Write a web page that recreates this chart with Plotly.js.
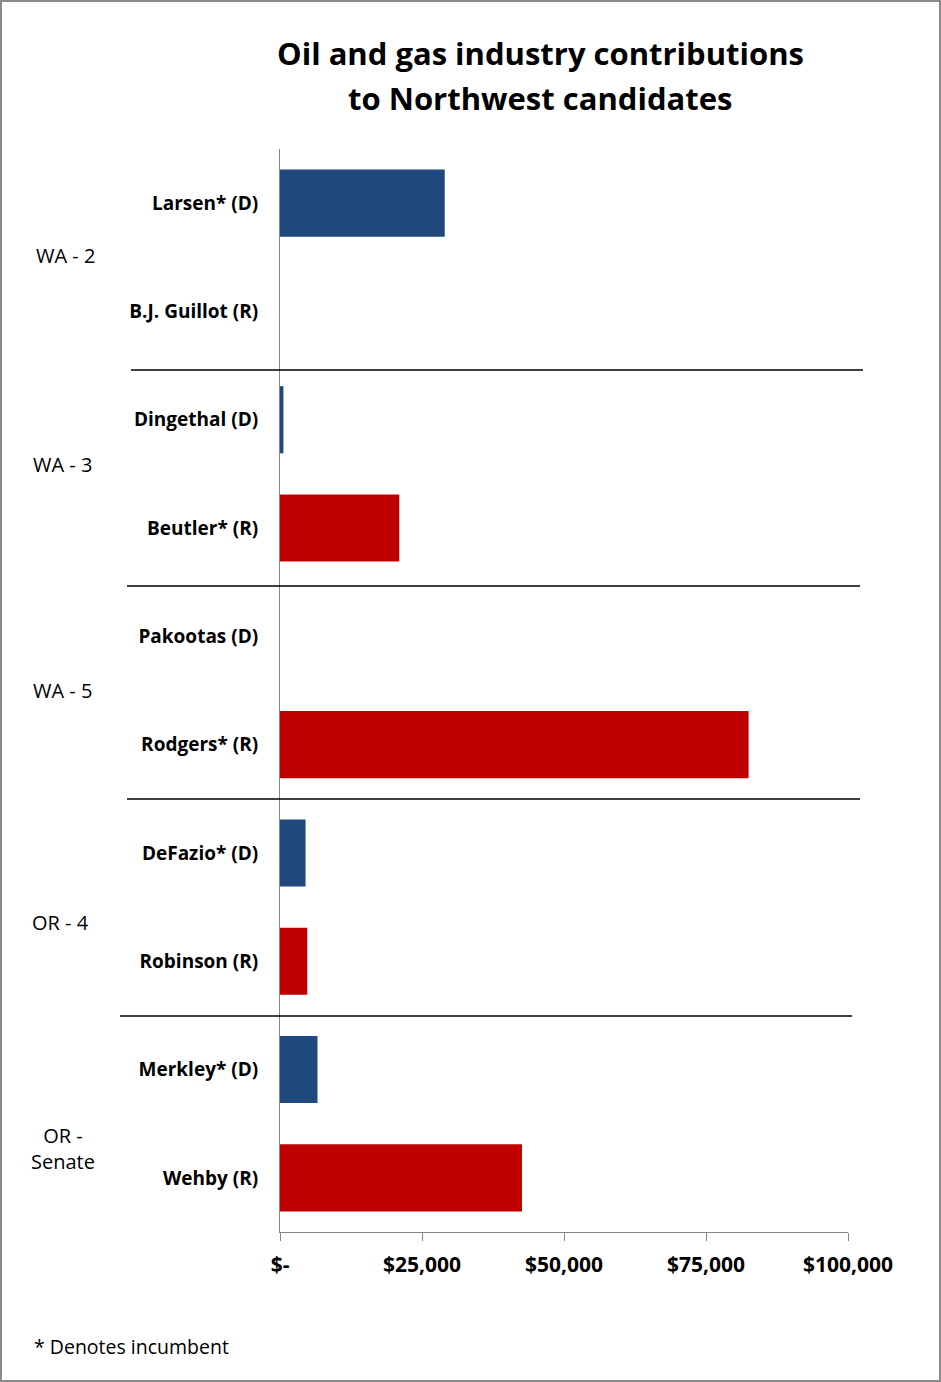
<!DOCTYPE html>
<html>
<head>
<meta charset="utf-8">
<script src="https://cdn.plot.ly/plotly-3.0.1.min.js"></script>
<style>
  body { margin: 0; background: #fff; }
  #frame { width: 941px; height: 1382px; box-sizing: border-box; border: 2px solid #8a8a8a; }
  #graph { width: 937px; height: 1378px; }
</style>
</head>
<body>
<div id="frame"><div id="graph"></div></div>
<script>
// candidates top to bottom
let candidates = ['Larsen* (D)', 'B.J. Guillot (R)', 'Dingethal (D)', 'Beutler* (R)', 'Pakootas (D)',
                  'Rodgers* (R)', 'DeFazio* (D)', 'Robinson (R)', 'Merkley* (D)', 'Wehby (R)'];
let party = ['D', 'R', 'D', 'R', 'D', 'R', 'D', 'R', 'D', 'R'];
let amounts = [29000, 0, 600, 21000, 0, 82500, 4500, 4800, 6600, 42600];

let races = ['WA - 2', 'WA - 3', 'WA - 5', 'OR - 4', 'OR -<br>Senate'];
let raceY = [256, 464, 690, 922, 1148];   // label centres, px from top
let raceX = [65, 62, 62, 60, 63];         // label centres, px from left

let tickVals = [0, 25000, 50000, 75000, 100000];
let tickText = ['$-', '$25,000', '$50,000', '$75,000', '$100,000'];

let partyColor = {D: '#1f497d', R: '#c00000'};
let font = '"Open Sans", sans-serif';

// plot area in pixels (inside the frame)
let L = 278, R = 91, T = 147, B = 148, W = 937, H = 1378;
let plotW = W - L - R, plotH = H - T - B;
let px2x = function(px){ return (px - 2 - L) / plotW; };
let px2y = function(py){ return 1 - (py - 2 - T) / plotH; };

var trace = {
	type: 'bar',
	orientation: 'h',
	y: candidates,
	x: amounts,
	width: 0.62,
	marker: { color: party.map(p => partyColor[p]) },
	hoverinfo: 'y+x'
};

// separators between races, as in the picture
let sepY = [370, 586, 799, 1016];
let sepLeft = [131, 127, 127, 120];
let sepRight = [863, 860, 860, 852];
var shapes = [];
for (let i = 0; i < sepY.length; i++) {
	shapes.push({
		type: 'line', xref: 'paper', yref: 'paper',
		x0: px2x(sepLeft[i]), x1: px2x(sepRight[i]),
		y0: px2y(sepY[i]), y1: px2y(sepY[i]),
		line: { color: '#000', width: 1.5 }
	});
}

var annotations = [];
for (let i = 0; i < races.length; i++) {
	annotations.push({
		xref: 'paper', yref: 'paper', x: px2x(raceX[i]), y: px2y(raceY[i]),
		text: races[i], showarrow: false, xanchor: 'center', yanchor: 'middle',
		font: { family: font, size: 20, color: '#000' }
	});
}
// title in two lines
annotations.push({
	xref: 'paper', yref: 'paper', x: px2x(540), y: px2y(53),
	text: '<b>Oil and gas industry contributions</b>', showarrow: false,
	xanchor: 'center', yanchor: 'middle', font: { family: font, size: 31, color: '#000' }
});
annotations.push({
	xref: 'paper', yref: 'paper', x: px2x(540), y: px2y(98),
	text: '<b>to Northwest candidates</b>', showarrow: false,
	xanchor: 'center', yanchor: 'middle', font: { family: font, size: 31, color: '#000' }
});
annotations.push({
	xref: 'paper', yref: 'paper', x: px2x(32), y: px2y(1346),
	text: '* Denotes incumbent', showarrow: false,
	xanchor: 'left', yanchor: 'middle', font: { family: font, size: 19.5, color: '#000' }
});

var layout = {
	width: W, height: H,
	margin: { l: L, r: R, t: T, b: B },
	paper_bgcolor: '#fff', plot_bgcolor: '#fff',
	showlegend: false,
	xaxis: {
		range: [0, 100000], tickvals: tickVals, ticktext: tickText,
		showgrid: false, zeroline: false,
		showline: true, linecolor: '#868686', linewidth: 1,
		ticks: 'outside', ticklen: 8, tickcolor: '#868686',
		ticklabelstandoff: 6,
		tickfont: { family: font, size: 21, color: '#000', weight: 'bold' }
	},
	yaxis: {
		type: 'category', autorange: 'reversed',
		showgrid: false, zeroline: false,
		showline: true, linecolor: '#868686', linewidth: 1,
		ticks: '', ticklabelstandoff: 17,
		tickfont: { family: font, size: 19, color: '#000', weight: 'bold' }
	},
	shapes: shapes,
	annotations: annotations
};

Plotly.newPlot('graph', [trace], layout, { displayModeBar: false, staticPlot: true });
</script>
</body>
</html>
